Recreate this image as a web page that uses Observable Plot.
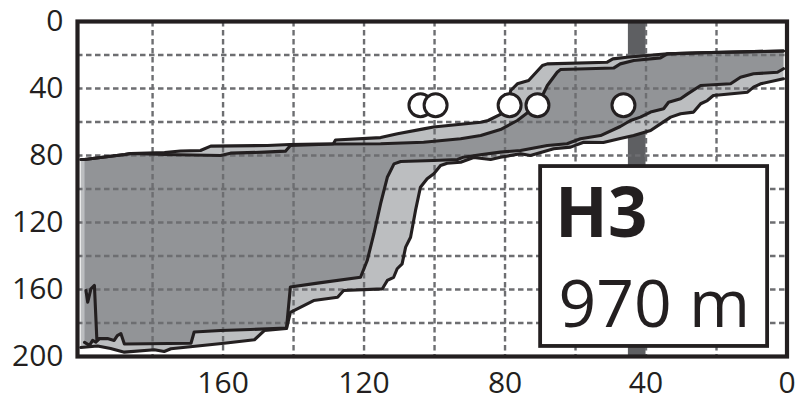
<!DOCTYPE html>
<html><head><meta charset="utf-8">
<script src="https://cdn.jsdelivr.net/npm/d3@7"></script>
<script src="https://cdn.jsdelivr.net/npm/@observablehq/plot@0.6"></script>
<style>body{margin:0;background:#fff}#chart svg{display:block}</style>
</head><body><div id="chart"></div>
<script>
// Data: x = distance (reversed axis), y = depth (reversed axis)
const lightTop = [[200.4,82.4],[199.3,82.4],[187.9,79.4],[186.2,78.8],[176.6,78.2],[172.1,77.3],[166.4,77.0],[163.5,74.4],[147.4,74.0],[141.1,73.4],[128.7,73.0],[128.1,70.7],[115.3,69.3],[110.5,67.0],[103.1,64.1],[100.3,63.0],[86.9,60.1],[84.8,59.1],[81.3,55.5],[79.3,50.1],[78.4,41.2],[76.5,37.2],[73.3,35.2],[69.4,26.3],[68.0,25.3],[51.0,24.3],[49.4,22.3],[45.4,21.3],[34.0,19.3],[24.5,18.7],[1.0,17.6]];
const darkTop = [[199.3,82.4],[187.9,79.4],[186.2,78.8],[176.6,79.4],[160.7,80.0],[157.9,78.6],[148.2,78.0],[142.3,77.4],[140.9,74.0],[128.7,73.1],[115.3,73.0],[103.1,72.1],[92.6,70.0],[86.9,68.1],[81.3,64.5],[76.5,59.1],[72.8,53.1],[69.1,43.0],[68.0,38.2],[65.2,30.3],[64.3,28.7],[49.2,27.8],[47.3,25.3],[43.5,23.3],[35.9,21.7],[34.0,19.3],[24.5,18.7],[1.0,17.6]];
const darkBottom = [[199.3,191.6],[197.9,193.4],[197.0,190.4],[196.1,191.5],[195.1,189.3],[192.8,189.3],[190.9,190.4],[190.0,187.5],[189.0,186.3],[188.0,192.5],[169.1,192.1],[168.2,185.4],[160.7,184.5],[152.2,183.9],[142.0,183.0],[140.9,158.5],[133.2,156.2],[121.0,152.7],[119.1,142.7],[117.2,126.7],[115.3,108.8],[113.4,93.0],[111.5,85.0],[109.6,83.6],[100.3,83.0],[93.5,82.4],[91.8,81.0],[87.0,79.6],[81.3,78.0],[75.6,77.0],[68.0,74.0],[62.4,73.0],[58.6,70.0],[52.9,68.1],[47.3,62.7],[44.4,59.1],[41.6,57.1],[38.7,54.1],[35.0,52.1],[33.6,48.2],[30.2,46.1],[28.2,43.2],[24.5,38.2],[16.0,37.2],[13.2,33.3],[9.5,31.2],[2.7,30.3],[1.0,28.2]];
const lightBottom = [[200.4,194.6],[195.6,193.7],[191.9,195.2],[188.0,197.4],[179.5,196.0],[176.7,197.0],[174.8,195.4],[159.7,192.1],[151.1,190.0],[148.3,184.5],[142.0,183.3],[140.9,173.6],[134.3,166.6],[127.5,164.6],[125.8,160.6],[114.8,159.6],[113.4,154.6],[111.6,152.7],[110.6,147.6],[109.2,144.7],[108.2,134.7],[106.8,128.8],[105.4,112.8],[104.0,98.9],[102.1,93.9],[100.2,90.9],[98.3,86.0],[96.4,84.6],[92.6,84.0],[88.9,81.2],[84.1,82.4],[81.3,81.0],[75.6,79.0],[72.8,80.0],[66.2,76.0],[61.4,75.0],[57.7,72.1],[52.1,72.2],[47.3,69.9],[43.5,68.1],[38.7,65.1],[35.9,61.1],[33.0,57.1],[30.2,55.1],[26.5,54.1],[24.5,49.1],[22.6,47.2],[20.9,44.2],[11.2,42.2],[9.5,39.2],[7.5,37.2],[1.0,34.2]];
const spike = [[198.9,160.6],[198.4,167.6],[197.5,159.6],[196.5,157.6],[195.8,190.4],[195.1,189.3]];
const sampleX = [104.0, 99.7, 78.7, 70.8, 46.4];
const sampleY = [50, 50, 50, 50, 50];
const markerBand = [40, 45];
const xTickLabels = [160, 120, 80, 40, 0];
const yTickLabels = [0, 40, 80, 120, 160, 200];
const gridX = [20, 40, 60, 80, 100, 120, 140, 160, 180];
const gridY = [20, 40, 60, 80, 100, 120, 140, 160, 180];
const labelTitle = ["H3"];
const labelSub = ["970 m"];

const INK = "#231f20", LIGHT = "#bcbec0", DARK = "#929497", GRID = "#6d6e71", BAR = "#5e5f62";
const samples = sampleX.map((x, i) => ({x, y: sampleY[i]}));
const lightPoly = lightTop.concat(lightBottom.slice().reverse());
const darkPoly = darkTop.concat(darkBottom.slice().reverse());
const px = d => d[0], py = d => d[1];
const outline = arr => Plot.line(arr, {x: px, y: py, stroke: INK, strokeWidth: 3.1, strokeLinejoin: "round"});

const chart = Plot.plot({
  width: 801, height: 402,
  marginLeft: 77, marginRight: 14.5, marginTop: 21, marginBottom: 46,
  style: {fontFamily: "'Open Sans', sans-serif", fontSize: "30px", color: INK, background: "white", overflow: "visible"},
  x: {domain: [201.3, 0], ticks: xTickLabels, tickSize: 0, tickPadding: 15, label: null, tickFormat: d => String(d)},
  y: {domain: [0, 200], reverse: true, ticks: yTickLabels, tickSize: 0, tickPadding: 14, label: null, tickFormat: d => String(d)},
  marks: [
    Plot.rect([markerBand], {x1: d => d[0], x2: d => d[1], fill: BAR}),
    Plot.line(lightPoly, {x: px, y: py, fill: LIGHT, stroke: "none"}),
    Plot.line(darkPoly, {x: px, y: py, fill: DARK, stroke: "none"}),
    Plot.ruleX(gridX, {stroke: GRID, strokeWidth: 2.4, strokeDasharray: "5.5,3.5"}),
    Plot.ruleY(gridY, {stroke: GRID, strokeWidth: 2.4, strokeDasharray: "5.5,3.5"}),
    outline(lightTop), outline(darkTop), outline(darkBottom), outline(lightBottom), outline(spike),
    Plot.dot(samples, {x: "x", y: "y", r: 11.5, fill: "white", stroke: INK, strokeWidth: 3}),
    Plot.rect(labelTitle, {x1: 69.9, x2: 5.5, y1: 86.6, y2: 194, fill: "white", stroke: INK, strokeWidth: 3.8}),
    Plot.text(labelTitle, {x: 65.8, y: 128.7, text: d => d, fontSize: 69, fontWeight: "bold", textAnchor: "start", lineAnchor: "bottom", fill: INK}),
    Plot.text(labelSub, {x: 64.8, y: 182.1, text: d => d, fontSize: 66, textAnchor: "start", lineAnchor: "bottom", fill: INK}),
    Plot.frame({stroke: INK, strokeWidth: 4.2})
  ]
});
document.getElementById("chart").append(chart);
</script></body></html>
